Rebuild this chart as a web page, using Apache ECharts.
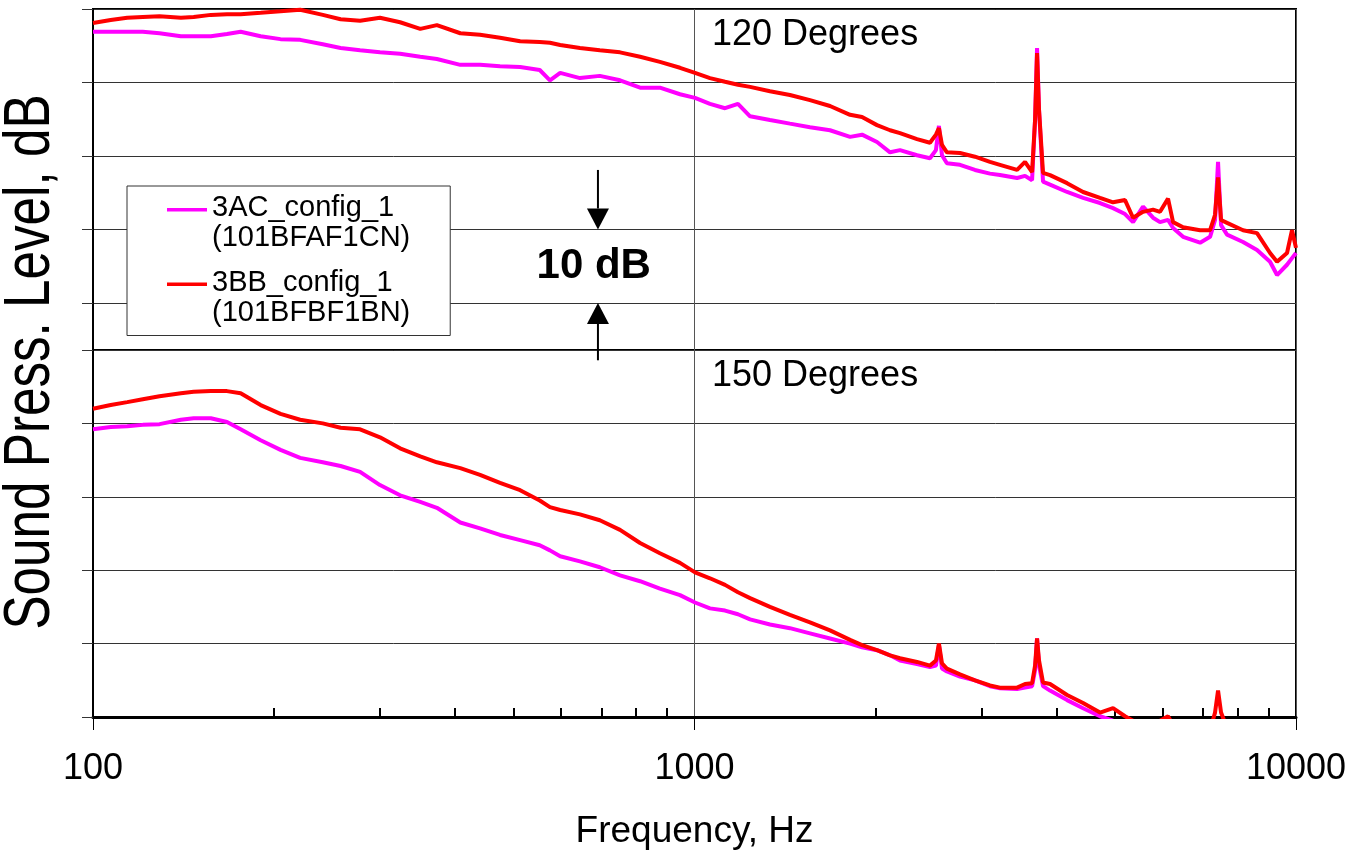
<!DOCTYPE html>
<html>
<head>
<meta charset="utf-8">
<title>Sound Press. Level</title>
<script src="https://cdn.jsdelivr.net/npm/echarts@6.0.0/dist/echarts.min.js"></script>
<style>
  html, body { margin: 0; padding: 0; background: #fff; }
  #main { width: 1367px; height: 855px; }
</style>
</head>
<body>
<div id="main"></div>
<script>
// frequency, Hz
const freq = [100, 107, 114, 121, 129, 140, 147, 157, 167, 176,
  190, 205, 221, 241, 258, 278, 300, 324, 350, 373,
  408, 440, 475, 513, 553, 575, 598, 645, 696, 752,
  812, 876, 946, 1002, 1061, 1124, 1181, 1237, 1335, 1441,
  1556, 1680, 1814, 1899, 2011, 2114, 2196, 2344, 2463, 2520,
  2549, 2579, 2628, 2763, 2926, 3099, 3220, 3438, 3544, 3641,
  3683, 3711, 3739, 3797, 3900, 4163, 4426, 4723, 4964, 5197,
  5359, 5568, 5785, 5942, 6127, 6246, 6490, 6927, 7197, 7335,
  7420, 7506, 7680, 8165, 8614, 9054, 9300, 9662, 9848, 10000];

// 120 degrees, dB
const deg120_3AC = [96.9, 96.9, 96.9, 96.9, 96.7, 96.3, 96.3, 96.3, 96.6, 96.9,
  96.3, 95.9, 95.8, 95.2, 94.7, 94.4, 94.1, 93.9, 93.5, 93.2,
  92.4, 92.4, 92.2, 92.1, 91.7, 90.3, 91.3, 90.6, 90.9, 90.3,
  89.3, 89.3, 88.4, 87.9, 87.1, 86.5, 87.1, 85.4, 84.9, 84.4,
  83.9, 83.5, 82.6, 82.9, 81.9, 80.5, 80.8, 80.1, 79.7, 80.8,
  84.1, 80.1, 79.0, 78.8, 78.1, 77.6, 77.4, 77.0, 77.3, 76.7,
  84.9, 94.7, 86.3, 76.5, 76.1, 75.1, 74.3, 73.6, 72.9, 72.1,
  71.0, 73.1, 71.6, 71.0, 71.3, 70.2, 69.0, 68.2, 69.0, 71.3,
  79.2, 70.6, 69.3, 68.3, 67.2, 65.6, 63.8, 65.2, 66.1, 66.8];
const deg120_3BB = [98.1, 98.5, 98.8, 98.9, 99.0, 98.8, 98.9, 99.2, 99.3, 99.3,
  99.5, 99.7, 99.9, 99.2, 98.6, 98.4, 98.8, 98.2, 97.3, 97.8,
  96.7, 96.5, 96.1, 95.6, 95.5, 95.4, 95.1, 94.7, 94.4, 94.1,
  93.5, 92.8, 92.0, 91.3, 90.6, 90.1, 89.7, 89.4, 88.8, 88.3,
  87.6, 86.8, 85.6, 85.3, 84.2, 83.5, 83.1, 82.3, 81.8, 82.9,
  83.8, 81.5, 80.5, 80.4, 79.9, 79.2, 78.8, 78.1, 79.2, 77.8,
  84.9, 94.0, 86.3, 77.7, 77.4, 76.3, 75.1, 74.3, 73.7, 74.0,
  71.6, 72.4, 72.7, 72.4, 74.2, 71.0, 70.3, 69.9, 69.9, 72.0,
  77.1, 71.3, 70.9, 69.9, 69.5, 66.8, 65.6, 66.8, 69.9, 67.5];

// 150 degrees, dB
const deg150_3AC = [89.2, 89.5, 89.6, 89.8, 89.9, 90.5, 90.7, 90.7, 90.2, 89.2,
  87.7, 86.4, 85.3, 84.7, 84.2, 83.4, 81.6, 80.2, 79.3, 78.5,
  76.5, 75.7, 74.8, 74.1, 73.4, 72.7, 71.9, 71.2, 70.4, 69.3,
  68.5, 67.5, 66.6, 65.6, 64.8, 64.5, 64.0, 63.3, 62.6, 62.1,
  61.4, 60.7, 60.0, 59.5, 59.1, 58.4, 57.7, 57.2, 56.8, 57.0,
  59.8, 56.6, 56.2, 55.5, 55.0, 54.2, 53.9, 53.8, 54.0, 54.2,
  56.4, 60.7, 57.0, 54.2, 53.6, 52.3, 51.2, 50.1, 49.5, 49.0,
  48.7, 48.2, 48.2, 47.9, 48.5, 47.6, 47.4, 46.8, 46.8, 47.5,
  49.5, 46.8, 46.5, 46.1, 45.7, 44.8, 44.1, 44.8, 45.2, 45.5];
const deg150_3BB = [92.0, 92.5, 92.9, 93.3, 93.7, 94.1, 94.3, 94.4, 94.4, 94.1,
  92.5, 91.3, 90.5, 90.0, 89.4, 89.2, 88.1, 86.6, 85.5, 84.7,
  83.9, 83.0, 81.9, 80.9, 79.5, 78.6, 78.2, 77.6, 76.8, 75.5,
  73.7, 72.3, 71.0, 69.7, 68.9, 68.0, 67.0, 66.2, 65.0, 63.9,
  62.9, 61.8, 60.5, 59.8, 59.1, 58.4, 58.0, 57.5, 57.0, 57.7,
  60.0, 57.3, 56.6, 55.8, 55.0, 54.3, 54.0, 54.0, 54.5, 54.6,
  57.0, 60.7, 57.7, 54.7, 54.5, 53.0, 51.9, 50.6, 51.2, 50.1,
  49.5, 49.3, 49.0, 49.5, 50.1, 48.9, 48.5, 47.9, 48.2, 50.6,
  53.6, 50.6, 48.5, 47.9, 47.5, 46.1, 45.2, 46.1, 48.2, 46.8];

const seriesNames = ['3AC_config_1', '3BB_config_1'];
const seriesCodes = ['(101BFAF1CN)', '(101BFBF1BN)'];
const panelTitles = ['120 Degrees', '150 Degrees'];
const topGridValues = [60, 70, 80, 90, 100];
const minorTicks = [200, 300, 400, 500, 600, 700, 800, 900,
  2000, 3000, 4000, 5000, 6000, 7000, 8000, 9000];

const FONT = '"Liberation Sans", Arial, sans-serif';
const MAGENTA = '#ff00ff';
const RED = '#ff0000';

const pairs = (vals) => freq.map((f, i) => [f, vals[i]]);

const chart = echarts.init(document.getElementById('main'));

const gridLine = { show: true, lineStyle: { color: '#333', width: 1 } };

function lineSeries(name, color, vals, idx) {
  return {
    name: name,
    type: 'line',
    xAxisIndex: idx,
    yAxisIndex: idx,
    data: pairs(vals),
    symbol: 'none',
    clip: true,
    lineStyle: { color: color, width: 4 },
    itemStyle: { color: color }
  };
}

chart.setOption({
  animation: false,
  textStyle: { fontFamily: FONT },
  title: [
    { text: panelTitles[0], left: 712, top: 17, padding: 0,
      textStyle: { fontSize: 36, fontWeight: 'normal', color: '#000', fontFamily: FONT } },
    { text: panelTitles[1], left: 712, top: 358, padding: 0,
      textStyle: { fontSize: 36, fontWeight: 'normal', color: '#000', fontFamily: FONT } }
  ],
  legend: {
    data: seriesNames,
    orient: 'vertical',
    left: 127,
    top: 186,
    padding: [7, 40, 8, 40],
    // bar at the top of the icon box so it lines up with the first text line
    icon: 'path://M0,0H40V3.5H0ZM0,30H40',
    itemWidth: 40,
    itemHeight: 30,
    itemGap: 14.5,
    itemStyle: { borderWidth: 0 },
    selectedMode: false,
    backgroundColor: '#fff',
    borderColor: '#333',
    borderWidth: 1,
    textStyle: { fontSize: 29, lineHeight: 30, color: '#000', fontFamily: FONT },
    formatter: function (name) {
      return name + '\n' + seriesCodes[seriesNames.indexOf(name)];
    }
  },
  grid: [
    { left: 93, right: 71, top: 9, height: 341, show: true, borderColor: '#000', borderWidth: 2 },
    { left: 93, right: 71, top: 350, height: 367, show: true, borderColor: '#000', borderWidth: 2 }
  ],
  xAxis: [
    {
      type: 'log', gridIndex: 0, min: 100, max: 10000, logBase: 10, position: 'bottom',
      axisLine: { show: false }, axisTick: { show: false }, axisLabel: { show: false },
      splitLine: { show: true, lineStyle: { color: '#555', width: 1 } }
    },
    {
      type: 'log', gridIndex: 1, min: 100, max: 10000, logBase: 10, position: 'bottom',
      axisLine: { show: true, lineStyle: { color: '#000', width: 3 } },
      axisTick: { show: true, length: 13, lineStyle: { color: '#000', width: 1 } },
      axisLabel: { fontSize: 36, color: '#000', margin: 34, fontFamily: FONT,
        formatter: (v) => String(Math.round(v)) },
      splitLine: { show: true, lineStyle: { color: '#555', width: 1 } },
      name: 'Frequency, Hz',
      nameLocation: 'middle',
      nameGap: 96,
      nameTextStyle: { fontSize: 37, color: '#000', fontFamily: FONT }
    },
    {
      type: 'log', gridIndex: 1, min: 100, max: 10000, logBase: 10, position: 'bottom',
      axisLine: { show: false }, axisLabel: { show: false }, splitLine: { show: false },
      axisTick: { show: true, inside: true, length: 9, customValues: minorTicks,
        lineStyle: { color: '#000', width: 2 } }
    }
  ],
  yAxis: [
    {
      type: 'value', gridIndex: 0, min: 53.6, max: 100,
      axisLine: { show: true, lineStyle: { color: '#000', width: 2 } },
      axisTick: { show: true, length: 11, customValues: topGridValues, lineStyle: { color: '#333' } },
      axisLabel: { show: false },
      splitLine: gridLine
    },
    {
      type: 'value', gridIndex: 1, min: 50, max: 100, interval: 10,
      axisLine: { show: true, lineStyle: { color: '#000', width: 2 } },
      axisTick: { show: true, length: 11, lineStyle: { color: '#333' } },
      axisLabel: { show: false },
      splitLine: gridLine
    }
  ],
  series: [
    lineSeries(seriesNames[0], MAGENTA, deg120_3AC, 0),
    lineSeries(seriesNames[1], RED, deg120_3BB, 0),
    lineSeries(seriesNames[0], MAGENTA, deg150_3AC, 1),
    lineSeries(seriesNames[1], RED, deg150_3BB, 1)
  ]
});

// "10 dB" marker, placed in the 120-degree panel's data space
const toPx = (v) => chart.convertToPixel({ xAxisIndex: 0, yAxisIndex: 0 }, v);
function arrow(from, tip) {
  const dir = tip[1] > from[1] ? 1 : -1;
  const base = tip[1] - dir * 21;
  return [
    { type: 'line', shape: { x1: from[0], y1: from[1], x2: tip[0], y2: base },
      style: { stroke: '#000', lineWidth: 2 }, z: 10 },
    { type: 'polygon', shape: { points: [[tip[0], tip[1]], [tip[0] - 11, base], [tip[0] + 11, base]] },
      style: { fill: '#000' }, z: 10 }
  ];
}
const lbl = toPx([680, 65]);

chart.setOption({
  graphic: [
    ...arrow(toPx([691, 78.1]), toPx([691, 70])),
    ...arrow(toPx([691, 52.2]), toPx([691, 60])),
    { type: 'text', x: lbl[0], y: lbl[1], z: 10,
      style: { text: '10 dB', fontSize: 42, fontWeight: 'bold', fill: '#000', fontFamily: FONT,
        align: 'center', verticalAlign: 'middle' } },
    { type: 'text', x: 31, y: 362, rotation: Math.PI / 2, scaleX: 0.8, z: 10,
      style: { text: 'Sound Press. Level, dB', fontSize: 64, fill: '#000', fontFamily: FONT,
        align: 'center', verticalAlign: 'middle' } }
  ]
});
</script>
</body>
</html>
